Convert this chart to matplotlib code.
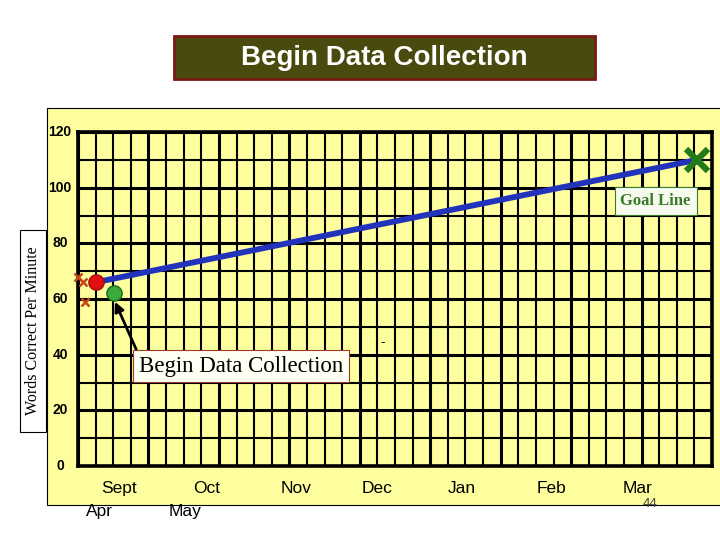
import matplotlib.pyplot as plt
from matplotlib.patches import Rectangle

# data (x in weeks from the left grid edge, y in words correct per minute)
baseline_weeks = [-0.02, 0.28, 0.4]
baseline_wcpm = [68, 66, 59]
start_week, start_wcpm = 1.0, 66
first_week, first_wcpm = 2.05, 62
goal_week, goal_wcpm = 35.15, 110
y_ticks = [0, 20, 40, 60, 80, 100, 120]
months_top = ['Sept', 'Oct', 'Nov', 'Dec', 'Jan', 'Feb', 'Mar']
months_top_x = [2.3, 7.3, 12.4, 17.0, 21.8, 26.9, 31.8]
months_bottom = ['Apr', 'May']
months_bottom_x = [1.2, 6.1]

W, H = 720, 540
fig = plt.figure(figsize=(7.2, 5.4), dpi=100)
fig.patch.set_facecolor('white')

def fx(px):
  return px / W

def fy(py):
  return 1 - py / H

yellow = '#fefe9e'
# yellow panel behind the chart
fig.patches.append(Rectangle((fx(47), fy(505)), fx(700), fy(108) - fy(505),
                             transform=fig.transFigure, facecolor=yellow,
                             edgecolor='black', lw=0.8, zorder=0))

# title box
fig.patches.append(Rectangle((fx(174), fy(79)), fx(595 - 174), fy(36) - fy(79),
                             transform=fig.transFigure, facecolor='#4a4a0e',
                             edgecolor='#7a1a10', lw=2, zorder=1))
fig.text(fx(384), fy(58), 'Begin Data Collection', color='white',
         fontsize=20, fontweight='bold', family='Liberation Sans',
         ha='center', va='center')

# y label box
fig.patches.append(Rectangle((fx(20), fy(432)), fx(26), fy(230) - fy(432),
                             transform=fig.transFigure, facecolor='white',
                             edgecolor='black', lw=0.8, zorder=1))
fig.text(fx(33), fy(331), 'Words Correct Per Minute', rotation=90,
         fontsize=11.5, family='Liberation Serif', ha='center', va='center')

ax = fig.add_axes([fx(78), fy(466), fx(712 - 78), fy(132) - fy(466)])
ax.set_zorder(3)
ax.set_facecolor(yellow)
ax.set_xlim(0, 36)
ax.set_ylim(0, 120)
ax.set_xticks(range(0, 37, 4))
ax.set_xticks(range(0, 37, 1), minor=True)
ax.set_yticks(y_ticks)
ax.set_yticks(range(0, 121, 10), minor=True)
ax.grid(which='major', color='black', lw=2.2, zorder=1)
ax.grid(which='minor', color='black', lw=1.5, zorder=1)
ax.tick_params(which='both', length=0, labelbottom=False, labelleft=False)
for s in ax.spines.values():
  s.set_linewidth(2.6)
  s.set_zorder(2)

for v in y_ticks:
  ax.text(-1.02, v, str(v), fontsize=10, fontweight='bold',
          family='Liberation Sans', ha='center', va='center', clip_on=False)

for m, x in zip(months_top, months_top_x):
  ax.text(x, -8, m, fontsize=12.5, family='Liberation Sans',
          ha='center', va='center', clip_on=False)
for m, x in zip(months_bottom, months_bottom_x):
  ax.text(x, -16.2, m, fontsize=12.5, family='Liberation Sans',
          ha='center', va='center', clip_on=False)
ax.text(32.5, -13.7, '44', fontsize=9.5, color='#444444',
        family='Liberation Sans', ha='center', va='center', clip_on=False)

# goal line
ax.plot([start_week, goal_week], [start_wcpm, goal_wcpm], color='#2233bb',
        lw=4.2, solid_capstyle='butt', zorder=4)
ax.plot(goal_week, goal_wcpm, marker='x', ms=16, mew=4.5, color='#237a18',
        zorder=5, clip_on=False)

# baseline
ax.plot(baseline_weeks, baseline_wcpm, ls='none', marker='x', ms=6, mew=1.8,
        color='#c8481a', zorder=5, clip_on=False)
ax.plot(start_week, start_wcpm, 'o', ms=11, color='#e01010',
        mec='#a01010', mew=1, zorder=6)
ax.plot(first_week, first_wcpm, 'o', ms=11, color='#3aaa3a',
        mec='#1d6a1d', mew=1, zorder=6)

ax.text(32.8, 95.1, 'Goal Line', fontsize=12, fontweight='bold',
        family='Liberation Serif', color='#3a7a2a', ha='center', va='center',
        zorder=7, bbox=dict(boxstyle='square,pad=0.35', fc='#f6fbee',
                            ec='#3a7a2a', lw=0.8))

ax.annotate('Begin Data Collection', xy=(first_week + 0.05, first_wcpm - 3),
            xytext=(9.26, 35.9), fontsize=16.5, family='Liberation Serif',
            ha='center', va='center', zorder=7,
            bbox=dict(boxstyle='square,pad=0.25', fc='#fffff4', ec='#9a3a2a',
                      lw=0.8),
            arrowprops=dict(arrowstyle='-|>', color='black', lw=2,
                            mutation_scale=14, shrinkA=0, shrinkB=0,
                            relpos=(0.0, 1.0)))
ax.text(17.3, 44.5, '-', fontsize=9, ha='center', va='center', zorder=7)

fig.savefig('out.png', dpi=100)
